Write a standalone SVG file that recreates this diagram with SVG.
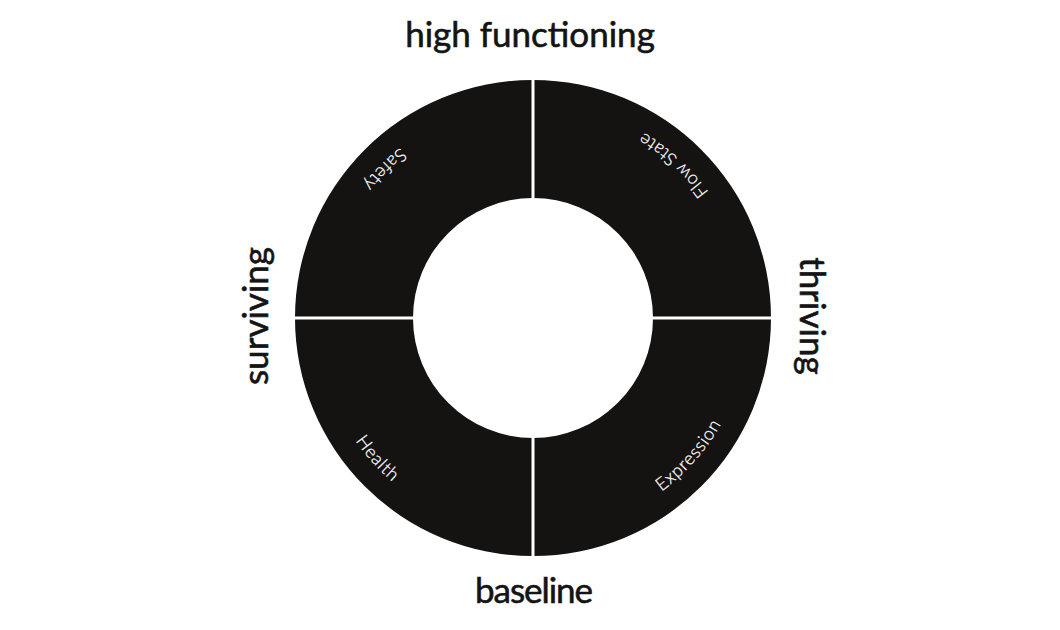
<svg xmlns="http://www.w3.org/2000/svg" xmlns:xlink="http://www.w3.org/1999/xlink" width="1060" height="630" viewBox="0 0 1060 630">
  <style>
    .seg { fill: #151312; }
    .divider { stroke: #ffffff; stroke-width: 3; }
    .title { font-family: Lato, "Liberation Sans", sans-serif; font-size: 35px; fill: #141414; stroke: #141414; stroke-width: 0.6px; }
    .label { font-family: Lato, "Liberation Sans", sans-serif; font-weight: 300; font-size: 18px; letter-spacing: 0.8px; fill: #ffffff; stroke: #ffffff; stroke-width: 0.25px; }
  </style>
  <defs>
    <path id="arc-safety" d="M441.7,122.2 A216,216 0 0 0 337.2,226.7"/>
    <path id="arc-flow" d="M724.6,218.3 A216,216 0 0 0 615.7,118.4"/>
    <path id="arc-expression" d="M636.4,507.6 A216,216 0 0 0 734.1,396.8"/>
    <path id="arc-health" d="M332.9,399.3 A216,216 0 0 0 431.9,508.9"/>
  </defs>
  <rect width="1060" height="630" fill="#ffffff"/>

  <g id="node-safety">
    <path class="seg" d="M295,318 A238,238 0 0 1 533,80 L533,198 A120,120 0 0 0 413,318 Z"/>
    <text class="label"><textPath xlink:href="#arc-safety" href="#arc-safety" startOffset="50%" text-anchor="middle">Safety</textPath></text>
  </g>
  <g id="node-flow-state">
    <path class="seg" d="M533,80 A238,238 0 0 1 771,318 L653,318 A120,120 0 0 0 533,198 Z"/>
    <text class="label"><textPath xlink:href="#arc-flow" href="#arc-flow" startOffset="50%" text-anchor="middle">Flow State</textPath></text>
  </g>
  <g id="node-expression">
    <path class="seg" d="M771,318 A238,238 0 0 1 533,556 L533,438 A120,120 0 0 0 653,318 Z"/>
    <text class="label"><textPath xlink:href="#arc-expression" href="#arc-expression" startOffset="50%" text-anchor="middle">Expression</textPath></text>
  </g>
  <g id="node-health">
    <path class="seg" d="M533,556 A238,238 0 0 1 295,318 L413,318 A120,120 0 0 0 533,438 Z"/>
    <text class="label"><textPath xlink:href="#arc-health" href="#arc-health" startOffset="50%" text-anchor="middle">Health</textPath></text>
  </g>

  <g id="connectors">
    <line class="divider" x1="533" y1="76" x2="533" y2="560"/>
    <line class="divider" x1="291" y1="318" x2="775" y2="318"/>
  </g>

  <g id="axis-labels">
    <text id="label-high-functioning" class="title" x="530" y="47" text-anchor="middle">high functioning</text>
    <text id="label-baseline" class="title" x="534" y="603" text-anchor="middle" textLength="118">baseline</text>
    <text id="label-surviving" class="title" transform="translate(268,316) rotate(-90)" text-anchor="middle">surviving</text>
    <text id="label-thriving" class="title" transform="translate(800,316) rotate(90)" text-anchor="middle">thriving</text>
  </g>
</svg>
